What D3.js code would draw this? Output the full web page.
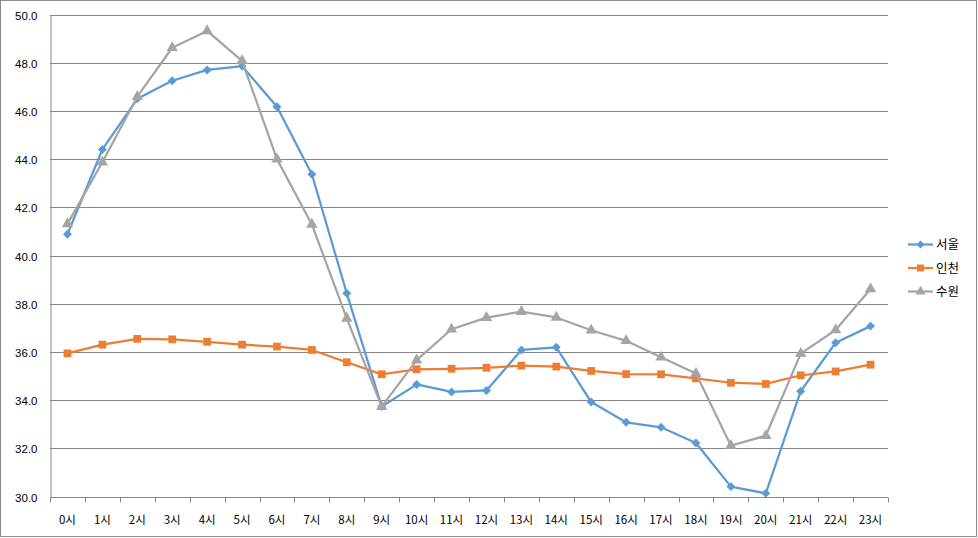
<!DOCTYPE html>
<html><head><meta charset="utf-8">
<script src="https://cdn.jsdelivr.net/npm/d3@7"></script>
<style>
html,body{margin:0;padding:0;background:#fff;}
svg{display:block;font-family:"Noto Sans CJK KR","DejaVu Sans",sans-serif;}
</style></head><body>
<svg id="chart" width="978" height="538"></svg>
<script>
const categories = ["0시","1시","2시","3시","4시","5시","6시","7시","8시","9시","10시","11시","12시","13시","14시","15시","16시","17시","18시","19시","20시","21시","22시","23시"];
const seoul   = [40.88,44.40,46.50,47.25,47.70,47.86,46.17,43.37,38.43,33.73,34.65,34.34,34.40,36.08,36.19,33.92,33.08,32.87,32.22,30.41,30.13,34.37,36.38,37.07];
const incheon = [35.94,36.30,36.54,36.52,36.42,36.30,36.22,36.08,35.57,35.07,35.28,35.30,35.34,35.43,35.39,35.21,35.08,35.07,34.90,34.72,34.67,35.03,35.19,35.47];
const suwon   = [41.31,43.87,46.59,48.62,49.32,48.08,44.00,41.29,37.39,33.73,35.66,36.94,37.42,37.67,37.43,36.90,36.46,35.78,35.10,32.11,32.52,35.93,36.91,38.61];
const seriesNames = ["서울","인천","수원"];
const yTicks = [30,32,34,36,38,40,42,44,46,48,50];

const diamondSq = {
  draw(ctx, size) {
    const r = Math.sqrt(size / 2);
    ctx.moveTo(0, -r); ctx.lineTo(r, 0); ctx.lineTo(0, r); ctx.lineTo(-r, 0); ctx.closePath();
  }
};

const series = [
  {name: seriesNames[0], values: seoul, color: "#5B9BD5", symbol: diamondSq, size: 40},
  {name: seriesNames[1], values: incheon, color: "#ED7D31", symbol: d3.symbolSquare, size: 60},
  {name: seriesNames[2], values: suwon, color: "#A5A5A5", symbol: d3.symbolTriangle, size: 56}
];

const svg = d3.select("#chart");
const W = 978, H = 538;
const m = {left: 50, right: 90, top: 14.5, bottom: 41.5};

svg.append("rect").attr("x",0.5).attr("y",0.5).attr("width",W-2).attr("height",H-2)
  .attr("fill","#fff").attr("stroke","#8c8c8c").attr("stroke-width",1);

const x = d3.scaleBand().domain(categories).range([m.left, W - m.right]).paddingInner(0).paddingOuter(0);
const y = d3.scaleLinear().domain([30,50]).range([H - m.bottom, m.top]);

// gridlines
svg.append("g").selectAll("line").data(yTicks.filter(t=>t>30)).join("line")
  .attr("x1", m.left).attr("x2", W - m.right)
  .attr("y1", d=>Math.round(y(d))+0.5).attr("y2", d=>Math.round(y(d))+0.5)
  .attr("stroke","#868686").attr("stroke-width",1);

// y axis
const yAxis = svg.append("g").attr("transform",`translate(${m.left+0.5},0)`)
  .call(d3.axisLeft(y).tickValues(yTicks).tickFormat(d3.format(".1f")).tickSize(0).tickPadding(13));
yAxis.select(".domain").attr("stroke","#868686");
yAxis.selectAll("text").attr("font-size","11.5px").attr("fill","#000")
  .attr("transform", d => `translate(0,${Math.round(y(d))+0.5 - y(d)})`);

// x axis
const xAxisG = svg.append("g").attr("transform",`translate(0,${Math.round(y(30))+0.5})`);
xAxisG.append("line").attr("x1",m.left).attr("x2",W-m.right).attr("stroke","#868686");
const bounds = d3.range(categories.length+1).map(i => m.left + i*x.bandwidth());
xAxisG.selectAll("line.tk").data(bounds).join("line").attr("class","tk")
  .attr("x1",d=>Math.round(d)+0.5).attr("x2",d=>Math.round(d)+0.5).attr("y1",0).attr("y2",5)
  .attr("stroke","#868686");
xAxisG.selectAll("text").data(categories).join("text")
  .attr("x", d => x(d) + x.bandwidth()/2).attr("y", 26)
  .attr("text-anchor","middle").attr("font-size","11.5px").attr("fill","#000").text(d=>d);

// lines and markers
const line = d3.line().x((d,i)=>x(categories[i]) + x.bandwidth()/2).y(d=>y(d));
series.forEach(s => {
  const g = svg.append("g");
  g.append("path").datum(s.values).attr("d", line).attr("fill","none")
    .attr("stroke", s.color).attr("stroke-width", 2.25).attr("stroke-linejoin","round");
  g.selectAll("path.mk").data(s.values).join("path").attr("class","mk")
    .attr("d", d3.symbol().type(s.symbol).size(s.size))
    .attr("transform", (d,i)=>`translate(${x(categories[i]) + x.bandwidth()/2},${y(d)})`)
    .attr("fill", s.color);
});

// legend
const lg = svg.append("g");
series.forEach((s,i) => {
  const ly = 244.5 + i*23.5;
  lg.append("line").attr("x1",908).attr("x2",933).attr("y1",ly).attr("y2",ly)
    .attr("stroke",s.color).attr("stroke-width",2.25);
  lg.append("path").attr("d", d3.symbol().type(s.symbol).size(s.size*0.8))
    .attr("transform",`translate(920.5,${ly})`).attr("fill",s.color);
  lg.append("text").attr("x",936).attr("y",ly+4.5).attr("font-size","12.5px").attr("fill","#000").text(s.name);
});
</script>
</body></html>
